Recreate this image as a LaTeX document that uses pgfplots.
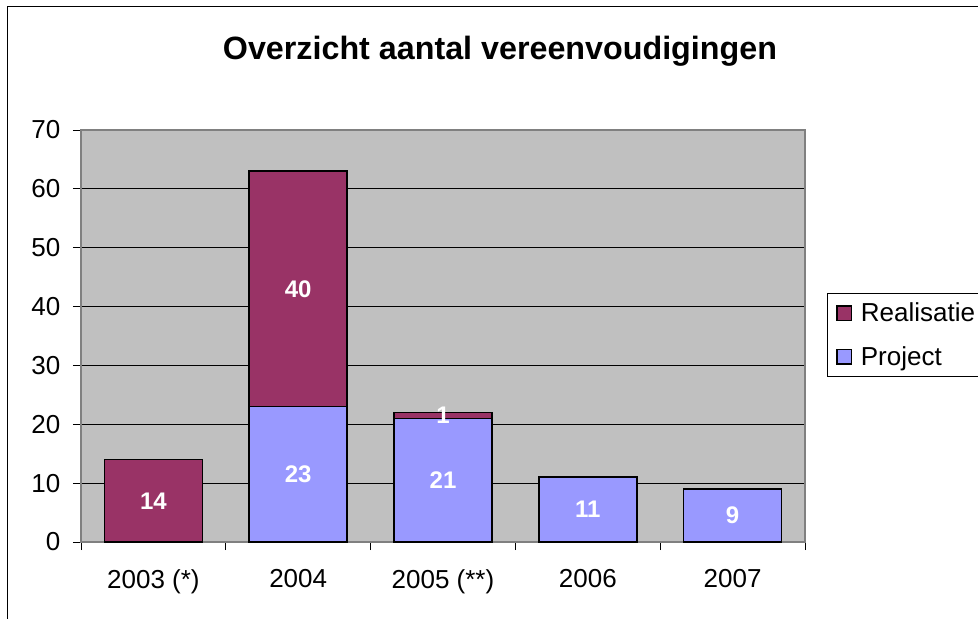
\documentclass[border=0pt]{standalone}
\usepackage{pgfplots}
\usepackage{pgfplotstable}
\pgfplotsset{compat=1.18}
\usepackage{fontspec}
\setmainfont{Liberation Sans}
\definecolor{realis}{RGB}{153,51,102}
\definecolor{proj}{RGB}{153,153,255}
\definecolor{plotbg}{RGB}{192,192,192}
\definecolor{bordergray}{RGB}{128,128,128}

\pgfplotstableread{
x real proj
0 14 0
1 40 23
2 1 21
3 0 11
4 0 9
}\data

\pgfplotstableread{
x y label
0 7 14
1 11.5 23
1 43 40
2 21.6 1
2 10.5 21
3 5.5 11
4 4.5 9
}\labels

\begin{document}
\begin{tikzpicture}[x=1pt,y=1pt]
\clip (0,0) rectangle (733.5,463.5);
\useasboundingbox (0,0) rectangle (733.5,463.5);
\draw[line width=0.75pt] (5.25,-10) rectangle (745,458.4);
\begin{axis}[
  at={(60.75pt,57pt)}, anchor=south west,
  scale only axis, width=543pt, height=309pt,
  ybar stacked, bar width=73.5pt,
  xmin=-0.5, xmax=4.5, ymin=0, ymax=70,
  ytick={0,10,...,70},
  xtick={0,...,4},
  xticklabels={2003 (*),2004,2005 (**),2006,2007},
  minor xtick={-0.5,0.5,...,4.5},
  major x tick style={draw=none},
  tick align=outside, xtick pos=bottom, ytick pos=left,
  major tick length=6pt, minor tick length=6pt,
  ymajorgrids, grid style={black, line width=0.75pt},
  axis background/.style={fill=plotbg},
  axis line style={draw=bordergray, line width=1.3pt},
  tick style={black, line width=0.75pt},
  /pgf/number format/assume math mode=true,
  ticklabel style={font=\fontsize{19.5}{22}\selectfont},
  xticklabel style={yshift=-11pt},
  yticklabel style={xshift=-6pt},
  title={\textbf{Overzicht aantal vereenvoudigingen}},
  title style={font=\fontsize{24.2}{28}\selectfont, at={(0.5787,1.172)}, anchor=center},
  legend style={at={(1.0304,0.6044)}, anchor=north west, draw=black, line width=0.75pt,
     font=\fontsize{19.5}{22}\selectfont, row sep=13pt, inner xsep=4pt, inner ysep=5pt,
     legend cell align=left},
  legend image code/.code={\draw[#1, line width=1pt] (3pt,-5.5pt) rectangle (14pt,5.5pt);
     \path[draw=none, fill=none] (0pt,0pt) -- (19pt,0pt);},
  reverse legend,
]
\addplot[fill=proj, draw=black, line width=1.3pt] table[x=x, y=proj] {\data};
\addplot[fill=realis, draw=black, line width=1.3pt] table[x=x, y=real] {\data};
\legend{Project, Realisatie}
\end{axis}
\begin{axis}[
  at={(60.75pt,57pt)}, anchor=south west,
  scale only axis, width=543pt, height=309pt,
  xmin=-0.5, xmax=4.5, ymin=0, ymax=70,
  axis lines=none, clip=false,
]
\addplot[only marks, mark=none, nodes near coords, point meta=explicit symbolic,
  every node near coord/.style={anchor=center, text=white, font=\fontsize{18}{20}\selectfont\bfseries}]
  table[x=x, y=y, meta=label] {\labels};
\end{axis}
\end{tikzpicture}
\end{document}
